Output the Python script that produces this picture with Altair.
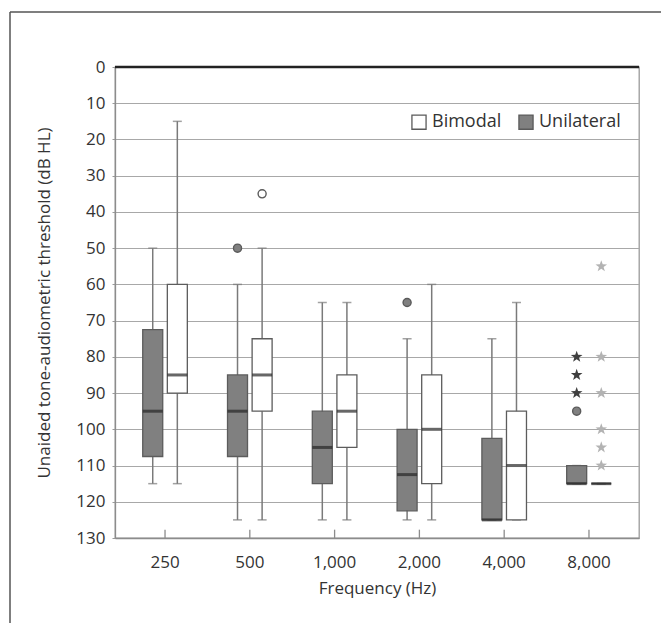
import altair as alt
import pandas as pd

freqs = ["250", "500", "1,000", "2,000", "4,000", "8,000"]
groups_order = ["Unilateral", "Bimodal"]
legend_order = ["Bimodal", "Unilateral"]
y_ticks = [0, 10, 20, 30, 40, 50, 60, 70, 80, 90, 100, 110, 120, 130]

# Unilateral box statistics (dB HL)
uni_lo = [50, 60, 65, 75, 75, 110]
uni_q1 = [72.5, 85, 95, 100, 102.5, 110]
uni_med = [95, 95, 105, 112.5, 125, 115]
uni_q3 = [107.5, 107.5, 115, 122.5, 125, 115]
uni_hi = [115, 125, 125, 125, 125, 115]

# Bimodal box statistics (dB HL)
bi_lo = [15, 50, 65, 60, 65, 115]
bi_q1 = [60, 75, 85, 85, 95, 115]
bi_med = [85, 85, 95, 100, 110, 115]
bi_q3 = [90, 95, 105, 115, 125, 115]
bi_hi = [115, 125, 125, 125, 125, 115]

# Outliers
out_freq = ["500", "500", "2,000", "8,000", "8,000", "8,000", "8,000",
            "8,000", "8,000", "8,000", "8,000", "8,000", "8,000"]
out_group = ["Unilateral", "Bimodal", "Unilateral", "Unilateral", "Unilateral", "Unilateral", "Unilateral",
             "Bimodal", "Bimodal", "Bimodal", "Bimodal", "Bimodal", "Bimodal"]
out_value = [50, 35, 65, 95, 80, 85, 90,
             55, 80, 90, 100, 105, 110]
out_kind = ["circle", "circle", "circle", "circle", "star", "star", "star",
            "star", "star", "star", "star", "star", "star"]

rows = []
for i, f in enumerate(freqs):
    rows.append(dict(freq=f, group="Unilateral", lo=uni_lo[i], q1=uni_q1[i], med=uni_med[i], q3=uni_q3[i], hi=uni_hi[i]))
    rows.append(dict(freq=f, group="Bimodal", lo=bi_lo[i], q1=bi_q1[i], med=bi_med[i], q3=bi_q3[i], hi=bi_hi[i]))
df = pd.DataFrame(rows)
out_df = pd.DataFrame(dict(freq=out_freq, group=out_group, value=out_value, kind=out_kind))
freq_df = pd.DataFrame(dict(freq=freqs))
zero_df = pd.DataFrame(dict(v=[0]))

STAR = "M0,-1L0.235,-0.324L0.951,-0.309L0.380,0.124L0.588,0.809L0,0.4L-0.588,0.809L-0.380,0.124L-0.951,-0.309L-0.235,-0.324Z"

W, H = 524, 471
FONT = "Open Sans"
TXT = "#333333"

x_enc = alt.X("freq:N", sort=freqs,
              scale=alt.Scale(domain=freqs, paddingInner=0, paddingOuter=0.09),
              axis=alt.Axis(title="Frequency (Hz)", labelAngle=0, ticks=False,
                            domainColor="#8c8c8c", domainWidth=1.3,
                            labelPadding=16, titlePadding=10, grid=False))
xo_enc = alt.XOffset("group:N", sort=groups_order,
                     scale=alt.Scale(domain=groups_order, paddingInner=0.187, paddingOuter=0.817))
y_scale = alt.Scale(domain=[0, 130], reverse=True, nice=False, zero=False)
y_axis = alt.Axis(title="Unaided tone-audiometric threshold (dB HL)", values=y_ticks,
                  labelOverlap=False, grid=True, gridColor="#a8a8a8", gridWidth=1.2,
                  tickSize=3, tickColor="#9a9a9a", domainColor="#8c8c8c", domainWidth=1.3,
                  labelPadding=7, titlePadding=22)


def Y(field):
    return alt.Y(field, scale=y_scale, axis=y_axis)


fill_scale = alt.Scale(domain=legend_order, range=["#ffffff", "#808080"])

base = alt.Chart(df)

whisk = base.mark_rule(color="#7a7a7a", strokeWidth=1.5).encode(
    x=x_enc, xOffset=xo_enc, y=Y("lo:Q"), y2="hi:Q")
cap_lo = base.mark_tick(color="#7a7a7a", thickness=1.5, size=9).encode(
    x=x_enc, xOffset=xo_enc, y=Y("lo:Q"))
cap_hi = base.mark_tick(color="#7a7a7a", thickness=1.5, size=9).encode(
    x=x_enc, xOffset=xo_enc, y=Y("hi:Q"))
box = base.mark_bar(stroke="#5c5c5c", strokeWidth=1.3).encode(
    x=x_enc, xOffset=xo_enc,
    y=Y("q1:Q"), y2="q3:Q",
    fill=alt.Fill("group:N", scale=fill_scale,
                  legend=alt.Legend(title=None, orient="none", legendX=295, legendY=46,
                                    direction="horizontal", symbolType="square", symbolSize=200,
                                    symbolStrokeColor="#6a6a6a", symbolStrokeWidth=1.3,
                                    labelFontSize=18, labelColor=TXT, labelFont=FONT,
                                    columnPadding=14, labelOffset=4)))
med = base.mark_tick(color="#262626", thickness=3, size=20).encode(
    x=x_enc, xOffset=xo_enc, y=Y("med:Q"))

obase = alt.Chart(out_df)
circles = obase.transform_filter("datum.kind == 'circle'").mark_point(
    shape="circle", filled=True, size=65, stroke="#5a5a5a", strokeWidth=1.4, opacity=1).encode(
    x=x_enc, xOffset=xo_enc, y=Y("value:Q"),
    fill=alt.Fill("group:N", scale=fill_scale))
stars_u = obase.transform_filter("datum.kind == 'star' && datum.group == 'Unilateral'").mark_point(
    shape=STAR, filled=True, size=150, fill="#3f3f3f", strokeWidth=0, opacity=1).encode(
    x=x_enc, xOffset=xo_enc, y=Y("value:Q"))
stars_b = obase.transform_filter("datum.kind == 'star' && datum.group == 'Bimodal'").mark_point(
    shape=STAR, filled=True, size=150, fill="#b3b3b3", strokeWidth=0, opacity=1).encode(
    x=x_enc, xOffset=xo_enc, y=Y("value:Q"))

top_line = alt.Chart(zero_df).mark_rule(color="#222222", strokeWidth=2.6).encode(y=Y("v:Q"))
xticks = alt.Chart(freq_df).transform_calculate(t0="127.7", t1="130").mark_rule(
    color="#8c8c8c", strokeWidth=1.3).encode(
    x=x_enc, y=Y("t0:Q"), y2="t1:Q")

frame_top = alt.Chart(zero_df).mark_rule(color="#555555", strokeWidth=1.5).encode(
    x=alt.value(-105), x2=alt.value(W + 40), y=alt.value(-55))
frame_left = alt.Chart(zero_df).mark_rule(color="#555555", strokeWidth=1.5).encode(
    x=alt.value(-105), y=alt.value(-55), y2=alt.value(H + 120))

chart = alt.layer(
    whisk, cap_lo, cap_hi, box, med, circles, stars_u, stars_b, top_line, xticks, frame_top, frame_left
).properties(
    width=W, height=H,
    autosize=alt.AutoSizeParams(type="none"),
    padding={"left": 107, "top": 59, "right": 22, "bottom": 85},
    background="white",
).configure_view(
    stroke="#9a9a9a", strokeWidth=1.3
).configure_axis(
    labelFont=FONT, titleFont=FONT, labelFontSize=17, titleFontSize=17,
    labelColor=TXT, titleColor=TXT, titleFontWeight="normal"
)

chart.save("out.html", embed_options={"renderer": "svg", "actions": False})
